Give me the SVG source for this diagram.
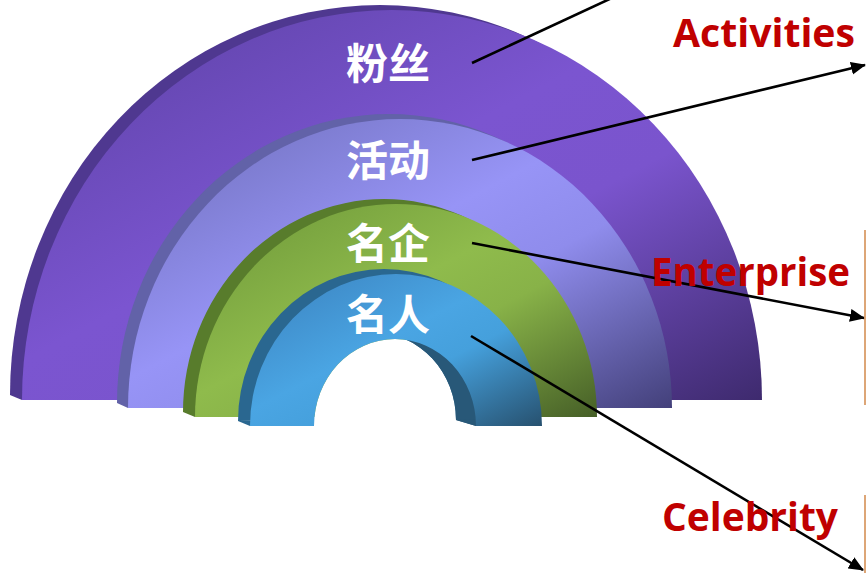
<svg xmlns="http://www.w3.org/2000/svg" width="866" height="573" viewBox="0 0 866 573">
  <defs>
    <linearGradient id="gPurple" x1="0" y1="0" x2="1" y2="1">
      <stop offset="0" stop-color="#5a40a2"/>
      <stop offset="0.45" stop-color="#7b55d0"/>
      <stop offset="0.62" stop-color="#7a54cd"/>
      <stop offset="1" stop-color="#3e2a6e"/>
    </linearGradient>
    <linearGradient id="gLav" x1="0" y1="0" x2="1" y2="1">
      <stop offset="0" stop-color="#6c6cb6"/>
      <stop offset="0.45" stop-color="#9794f6"/>
      <stop offset="0.62" stop-color="#8f8cec"/>
      <stop offset="1" stop-color="#43407a"/>
    </linearGradient>
    <linearGradient id="gGreen" x1="0" y1="0" x2="1" y2="1">
      <stop offset="0" stop-color="#6c9638"/>
      <stop offset="0.45" stop-color="#8fbb4c"/>
      <stop offset="0.62" stop-color="#88b248"/>
      <stop offset="1" stop-color="#465f27"/>
    </linearGradient>
    <linearGradient id="gBlue" x1="0" y1="0" x2="1" y2="1">
      <stop offset="0" stop-color="#3a80bd"/>
      <stop offset="0.45" stop-color="#4aa5e3"/>
      <stop offset="0.62" stop-color="#45a0dc"/>
      <stop offset="1" stop-color="#27516f"/>
    </linearGradient>
    <marker id="arrow" markerUnits="userSpaceOnUse" markerWidth="16" markerHeight="14" refX="14" refY="6.5" orient="auto">
      <path d="M0,0 L15,6.5 L0,13 Z" fill="#000"/>
    </marker>
    <style>
      .cn { font-family: "Noto Sans CJK SC", "Noto Sans", sans-serif; font-weight: 700; font-size: 42px; fill: #ffffff; text-anchor: middle; }
      .en { font-family: "Open Sans", "Liberation Sans", sans-serif; font-weight: 700; font-size: 40px; fill: #c00000; }
      .lead { stroke: #000; stroke-width: 2.6; fill: none; }
      .edge { stroke: #d2884a; stroke-width: 1.5; }
    </style>
  </defs>

  <rect width="866" height="573" fill="#ffffff"/>

  <g id="band-fans">
    <path d="M10 395 A 370 390 0 0 1 750 395 Z" fill="#4f3890"/>
    <polygon points="10,395 22,400 70,400 58,395" fill="#4f3890"/>
    <path d="M22 400 A 370 390 0 0 1 762 400 Z" fill="url(#gPurple)"/>
    <text class="cn" x="388" y="79">粉丝</text>
  </g>

  <g id="band-activities">
    <path d="M117 403 A 272 289 0 0 1 661 403 Z" fill="#6262a8"/>
    <polygon points="117,403 128,408 170,408 159,403" fill="#6262a8"/>
    <path d="M128 408 A 272 289 0 0 1 672 408 Z" fill="url(#gLav)"/>
    <text class="cn" x="388" y="176">活动</text>
  </g>

  <g id="band-enterprise">
    <path d="M183 412 A 201 213 0 0 1 585 412 Z" fill="#587c2c"/>
    <polygon points="183,412 195,417 235,417 223,412" fill="#587c2c"/>
    <path d="M195 417 A 201 213 0 0 1 597 417 Z" fill="url(#gGreen)"/>
    <text class="cn" x="388" y="259">名企</text>
  </g>

  <g id="band-celebrity">
    <path d="M314 426 A 81 87 0 0 1 476 426 Z" fill="#ffffff"/>
    <path d="M238 421 A 146 152 0 0 1 530 421 L 456 420 A 81 87 0 0 0 294 420 Z" fill="#2a6790"/>
    <path d="M456 420 A 81 87 0 0 0 375 333 A 81 87 0 0 1 476 426 Z" fill="#285878"/>
    <polygon points="456,420 476,426 520,426 520,419" fill="#285878"/>
    <polygon points="238,421 250,426 290,426 278,421" fill="#2a6790"/>
    <path d="M250 426 A 146 152 0 0 1 542 426 L 476 426 A 81 87 0 0 0 314 426 Z" fill="url(#gBlue)"/>
    <text class="cn" x="388" y="330">名人</text>
  </g>

  <g id="connectors">
    <line class="lead" x1="472" y1="63" x2="614" y2="-3"/>
    <line class="lead" x1="472" y1="160" x2="865" y2="65" marker-end="url(#arrow)"/>
    <line class="lead" x1="472" y1="243" x2="864" y2="318" marker-end="url(#arrow)"/>
    <line class="lead" x1="471" y1="336" x2="863" y2="570" marker-end="url(#arrow)"/>
  </g>

  <g id="right-edge">
    <line class="edge" x1="865" y1="230" x2="865" y2="405"/>
    <line class="edge" x1="865" y1="495" x2="865" y2="573"/>
  </g>

  <g id="labels">
    <text class="en" x="673" y="47" textLength="182" lengthAdjust="spacingAndGlyphs">Activities</text>
    <text class="en" x="651" y="286" textLength="199" lengthAdjust="spacingAndGlyphs">Enterprise</text>
    <text class="en" x="662" y="531" textLength="176" lengthAdjust="spacingAndGlyphs">Celebrity</text>
  </g>
</svg>
